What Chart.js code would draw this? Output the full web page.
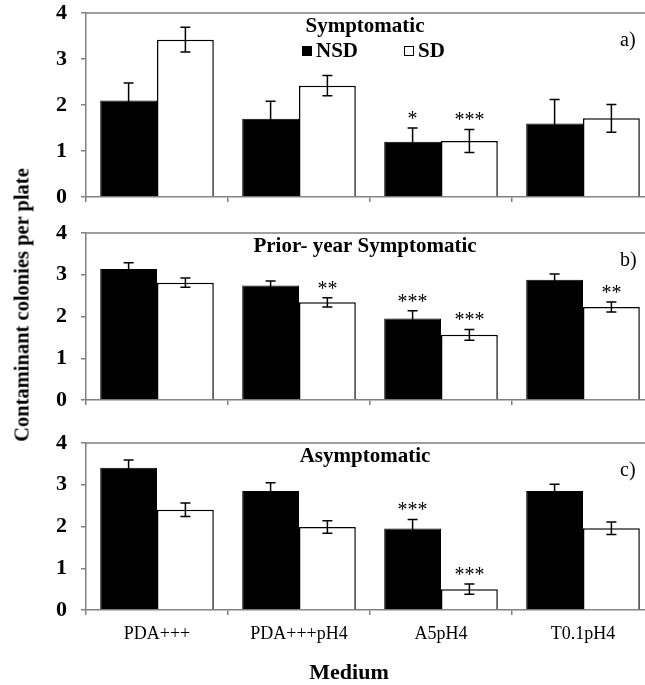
<!DOCTYPE html>
<html>
<head>
<meta charset="utf-8">
<script src="https://cdn.jsdelivr.net/npm/chart.js@4"></script>
<style>
  html, body { margin: 0; padding: 0; background: #fff; }
  body { width: 645px; height: 685px; overflow: hidden; position: relative; }
  canvas { position: absolute; left: 0; }
  .ytitle {
    position: absolute; left: 22px; top: 305px;
    transform: translate(-50%, -50%) rotate(-90deg);
    font: bold 20.5px 'Liberation Serif', serif; white-space: nowrap; color: #000;
  }
  .xtitle {
    position: absolute; left: 349px; top: 672px;
    transform: translate(-50%, -50%);
    font: bold 22px 'Liberation Serif', serif; color: #000;
  }
</style>
</head>
<body>
<canvas id="chartA" width="660" height="215" style="top:0px"></canvas>
<canvas id="chartB" width="660" height="195" style="top:220px"></canvas>
<canvas id="chartC" width="660" height="255" style="top:430px"></canvas>
<div class="ytitle">Contaminant colonies per plate</div>
<div class="xtitle">Medium</div>
<script>
'use strict';

// ---- data ----
const media = ['PDA+++', 'PDA+++pH4', 'A5pH4', 'T0.1pH4'];
const seriesNames = ['NSD', 'SD'];
const yTicks = [0, 1, 2, 3, 4];

// a) Symptomatic
const symNSD    = [2.10, 1.70, 1.20, 1.60];
const symNSDErr = [0.38, 0.38, 0.30, 0.52];
const symSD     = [3.42, 2.42, 1.22, 1.71];
const symSDErr  = [0.27, 0.22, 0.25, 0.30];
const symNSDSig = ['', '', '*', ''];
const symSDSig  = ['', '', '***', ''];

// b) Prior- year Symptomatic
const priorNSD    = [3.14, 2.74, 1.95, 2.88];
const priorNSDErr = [0.15, 0.11, 0.19, 0.14];
const priorSD     = [2.81, 2.34, 1.56, 2.23];
const priorSDErr  = [0.11, 0.11, 0.13, 0.12];
const priorNSDSig = ['', '', '***', ''];
const priorSDSig  = ['', '**', '***', '**'];

// c) Asymptomatic
const asymNSD    = [3.41, 2.85, 1.95, 2.85];
const asymNSDErr = [0.18, 0.20, 0.22, 0.16];
const asymSD     = [2.40, 1.99, 0.50, 1.96];
const asymSDErr  = [0.16, 0.15, 0.12, 0.15];
const asymNSDSig = ['', '', '***', ''];
const asymSDSig  = ['', '', '***', ''];

const SERIF = "'Liberation Serif', 'Times New Roman', serif";
const AXIS_GRAY = '#808080';

// error bars + significance stars
const ErrorBarPlugin = {
  id: 'errorBars',
  afterDatasetsDraw(chart) {
    const { ctx } = chart;
    const y = chart.scales.y;
    ctx.save();
    chart.data.datasets.forEach((ds, di) => {
      const meta = chart.getDatasetMeta(di);
      meta.data.forEach((bar, i) => {
        const v = ds.data[i];
        const e = ds.err[i];
        const top = y.getPixelForValue(v + e);
        const bot = y.getPixelForValue(v - e);
        ctx.strokeStyle = '#000';
        ctx.lineWidth = 1.5;
        ctx.beginPath();
        ctx.moveTo(bar.x, top); ctx.lineTo(bar.x, bot);
        ctx.moveTo(bar.x - 5, top); ctx.lineTo(bar.x + 5, top);
        ctx.moveTo(bar.x - 5, bot); ctx.lineTo(bar.x + 5, bot);
        ctx.stroke();
        const s = ds.sig[i];
        if (s) {
          ctx.fillStyle = '#000';
          ctx.font = `20px ${SERIF}`;
          ctx.textAlign = 'center';
          ctx.textBaseline = 'alphabetic';
          ctx.fillText(s, bar.x, top - 3);
        }
      });
    });
    ctx.restore();
  }
};

// frame, panel title, panel letter, in-plot legend
const PanelPlugin = {
  id: 'panel',
  afterDraw(chart) {
    const { ctx, chartArea } = chart;
    const o = chart.options.plugins.panel;
    ctx.save();
    ctx.strokeStyle = AXIS_GRAY;
    ctx.lineWidth = 1.5;
    ctx.beginPath();
    ctx.moveTo(chartArea.left, chartArea.top);
    ctx.lineTo(chartArea.right, chartArea.top);
    ctx.lineTo(chartArea.right, chartArea.bottom);
    ctx.stroke();

    ctx.fillStyle = '#000';
    ctx.textBaseline = 'middle';
    ctx.textAlign = 'center';
    ctx.font = `bold 21px ${SERIF}`;
    ctx.fillText(o.title, 365, chartArea.top + 14);

    ctx.textAlign = 'left';
    ctx.font = `20px ${SERIF}`;
    ctx.fillText(o.letter, 620, chartArea.top + 28);

    if (o.legend) {
      ctx.font = `bold 21px ${SERIF}`;
      chart.data.datasets.forEach((ds, i) => {
        const x0 = 302 + i * 102;
        const yc = chartArea.top + 38;
        ctx.fillStyle = ds.backgroundColor;
        ctx.fillRect(x0, yc - 5, 10, 10);
        ctx.strokeStyle = '#000';
        ctx.lineWidth = 1;
        ctx.strokeRect(x0 + 0.5, yc - 4.5, 9, 9);
        ctx.fillStyle = '#000';
        ctx.fillText(ds.label, x0 + 14, yc + 1);
      });
    }
    ctx.restore();
  }
};

function makePanel(id, cfg) {
  const canvas = document.getElementById(id);
  const datasets = [
    { label: seriesNames[0], data: cfg.nsd, err: cfg.nsdErr, sig: cfg.nsdSig,
      backgroundColor: '#000', borderColor: '#000', borderWidth: 1 },
    { label: seriesNames[1], data: cfg.sd, err: cfg.sdErr, sig: cfg.sdSig,
      backgroundColor: '#fff', borderColor: '#000', borderWidth: 1.5 }
  ];
  return new Chart(canvas.getContext('2d'), {
    type: 'bar',
    data: { labels: media, datasets },
    plugins: [ErrorBarPlugin, PanelPlugin],
    options: {
      responsive: false,
      animation: false,
      devicePixelRatio: 1,
      categoryPercentage: 0.8,
      barPercentage: 1.0,
      layout: { autoPadding: false, padding: { top: 13, right: 6, left: 0, bottom: 0 } },
      plugins: {
        legend: { display: false },
        tooltip: { enabled: false },
        panel: { title: cfg.title, letter: cfg.letter, legend: cfg.legend }
      },
      scales: {
        x: {
          afterFit(scale) {
            scale.height = cfg.xHeight;
            scale.paddingLeft = 0; scale.paddingRight = 0;
          },
          grid: { display: true, offset: true, drawOnChartArea: false, drawTicks: true,
                  tickLength: 5, color: AXIS_GRAY, lineWidth: 1.5 },
          border: { color: AXIS_GRAY, width: 1.5 },
          ticks: {
            display: cfg.showLabels,
            padding: 8,
            color: '#000',
            font: { family: SERIF, size: 18 }
          }
        },
        y: {
          min: yTicks[0],
          max: yTicks[yTicks.length - 1],
          afterFit(scale) {
            scale.width = 86;
            scale.paddingTop = 0; scale.paddingBottom = 0;
          },
          afterBuildTicks(scale) { scale.ticks = yTicks.map(v => ({ value: v })); },
          grid: { drawOnChartArea: false, drawTicks: true, tickLength: 5,
                  color: AXIS_GRAY, lineWidth: 1.5 },
          border: { color: AXIS_GRAY, width: 1.5 },
          ticks: {
            padding: 14,
            color: '#000',
            font: { family: SERIF, size: 22, weight: 'bold' }
          }
        }
      }
    }
  });
}

makePanel('chartA', {
  nsd: symNSD, nsdErr: symNSDErr, nsdSig: symNSDSig,
  sd: symSD, sdErr: symSDErr, sdSig: symSDSig,
  title: 'Symptomatic', letter: 'a)', legend: true, xHeight: 18, showLabels: false
});
makePanel('chartB', {
  nsd: priorNSD, nsdErr: priorNSDErr, nsdSig: priorNSDSig,
  sd: priorSD, sdErr: priorSDErr, sdSig: priorSDSig,
  title: 'Prior- year Symptomatic', letter: 'b)', legend: false, xHeight: 15, showLabels: false
});
makePanel('chartC', {
  nsd: asymNSD, nsdErr: asymNSDErr, nsdSig: asymNSDSig,
  sd: asymSD, sdErr: asymSDErr, sdSig: asymSDSig,
  title: 'Asymptomatic', letter: 'c)', legend: false, xHeight: 75, showLabels: true
});
</script>
</body>
</html>
